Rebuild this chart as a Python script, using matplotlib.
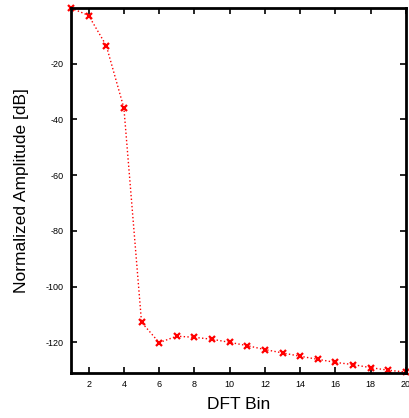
import matplotlib
matplotlib.use("Agg")
import matplotlib.pyplot as plt

plt.rcParams['font.family'] = ['Liberation Sans', 'DejaVu Sans']
plt.rcParams['axes.unicode_minus'] = False

# DFT bins and normalized amplitude (dB)
bins = list(range(1, 21))
amp_db = [0.0, -2.7, -13.5, -35.9, -112.8, -120.1, -117.8, -118.2, -118.9, -120.0,
          -121.2, -122.6, -123.8, -125.0, -126.1, -127.2, -128.0, -129.1, -130.0, -130.7]

xticks = list(range(2, 21, 2))
yticks = [-120, -100, -80, -60, -40, -20]

fig = plt.figure(figsize=(4.09, 4.18), dpi=100)
ax = fig.add_axes([0.1736, 0.1077, 0.8191, 0.8732])

ax.plot(bins, amp_db, color='red', linestyle=':', linewidth=1.0)
ax.plot(bins, amp_db, color='red', linestyle='none', marker='x',
        markersize=4.5, markeredgewidth=1.6, clip_on=False)

ax.set_xlim(1, 20)
ax.set_ylim(-131, 0)
ax.set_xticks(xticks)
ax.set_yticks(yticks)
ax.tick_params(direction='in', top=True, right=True, length=4, width=1.2,
               labelsize=6.5, pad=5)
for s in ax.spines.values():
    s.set_linewidth(2)

ax.set_xlabel('DFT Bin', fontsize=12.5, labelpad=6)
ax.set_ylabel('Normalized Amplitude [dB]', fontsize=12.5, labelpad=12)

fig.savefig('out.png', dpi=100)
